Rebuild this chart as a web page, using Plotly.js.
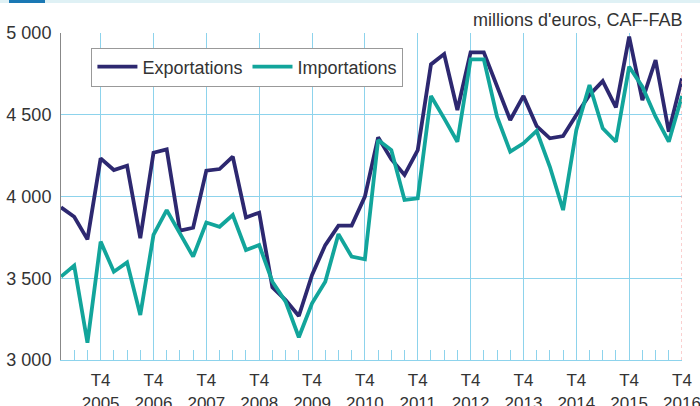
<!DOCTYPE html>
<html>
<head>
<meta charset="utf-8">
<script src="https://cdn.plot.ly/plotly-3.0.1.min.js"></script>
<style>
html,body{margin:0;padding:0;background:#fff;}
#chart{width:700px;height:406px;}
</style>
</head>
<body>
<div id="chart"></div>
<script>
// Quarters 2005T1 .. 2016T4
var quarters = ["2005T1","2005T2","2005T3","2005T4","2006T1","2006T2","2006T3","2006T4",
"2007T1","2007T2","2007T3","2007T4","2008T1","2008T2","2008T3","2008T4",
"2009T1","2009T2","2009T3","2009T4","2010T1","2010T2","2010T3","2010T4",
"2011T1","2011T2","2011T3","2011T4","2012T1","2012T2","2012T3","2012T4",
"2013T1","2013T2","2013T3","2013T4","2014T1","2014T2","2014T3","2014T4",
"2015T1","2015T2","2015T3","2015T4","2016T1","2016T2","2016T3","2016T4"];

var exportations = [3934,3876,3738,4233,4162,4188,3745,4268,4288,3791,
3809,4158,4168,4244,3872,3901,3444,3367,3269,3520,
3703,3822,3822,3999,4362,4228,4132,4284,4808,4871,
4529,4882,4882,4672,4468,4615,4431,4356,4370,4498,
4621,4706,4545,4978,4590,4835,4396,4722];

var importations = [3510,3577,3106,3724,3540,3597,3275,3765,3917,3776,
3632,3841,3815,3887,3673,3703,3479,3357,3139,3347,
3479,3770,3632,3616,4345,4284,3979,3989,4615,4478,
4335,4839,4839,4488,4274,4325,4402,4182,3917,4406,
4682,4417,4335,4794,4672,4488,4335,4615];

var years = ["2005","2006","2007","2008","2009","2010","2011","2012","2013","2014","2015","2016"];
var yTickVals = [3000,3500,4000,4500,5000];
var yTickText = ["3 000","3 500","4 000","4 500","5 000"];

function qToNum(q){ return parseInt(q.slice(0,4),10) + (parseInt(q.slice(5),10)-1)/4; }
var xs = quarters.map(qToNum);
var t4Vals = years.map(function(y){ return parseInt(y,10)+0.75; });
var t4Text = years.map(function(y){ return "T4<br>"+y; });

var grid = '#8dd3ec';

var traces = [
  {x: xs, y: exportations, name: 'Exportations', type: 'scatter', mode: 'lines',
   line: {color: '#2d2870', width: 3.8}},
  {x: xs, y: importations, name: 'Importations', type: 'scatter', mode: 'lines',
   line: {color: '#12a59b', width: 3.8}}
];

var layout = {
  width: 700, height: 406,
  margin: {l: 61, r: 18, t: 33, b: 46},
  paper_bgcolor: '#fff', plot_bgcolor: '#fff',
  font: {family: 'Liberation Sans, Arial, sans-serif', size: 18, color: '#333'},
  showlegend: true,
  legend: {orientation: 'h', x: 0.049, y: 0.896, xanchor: 'left', yanchor: 'middle',
           bgcolor: '#fff', bordercolor: '#999', borderwidth: 1,
           font: {size: 18, color: '#333'}, itemwidth: 40},
  xaxis: {
    range: [2005, 2016.75], tickmode: 'array', tickvals: t4Vals, ticktext: t4Text,
    showgrid: true, gridcolor: grid, gridwidth: 1,
    ticks: 'inside', ticklen: 10, tickcolor: grid,
    minor: {tick0: 2005, dtick: 0.25, ticks: 'inside', ticklen: 10, tickcolor: grid, showgrid: false},
    showline: true, linecolor: grid, linewidth: 1, zeroline: false,
    tickfont: {size: 17, color: '#333'}, ticklabelstandoff: 5, ticklabeloverflow: 'allow'
  },
  yaxis: {
    range: [3000, 5000], tickmode: 'array', tickvals: yTickVals, ticktext: yTickText,
    showgrid: true, gridcolor: grid, gridwidth: 1,
    showline: true, linecolor: '#888', linewidth: 1, zeroline: false,
    ticks: '', tickfont: {size: 18, color: '#333'}, ticklabelstandoff: 5
  },
  shapes: [
    {type: 'rect', xref: 'paper', yref: 'paper', x0: -0.1, x1: 1.04, y0: 1.0917, y1: 1.11,
     fillcolor: '#dff1f5', line: {width: 0}},
    {type: 'rect', xref: 'paper', yref: 'paper', x0: (9-61)/621, x1: (45-61)/621, y0: 1.0917, y1: 1.11,
     fillcolor: '#1a78b4', line: {width: 0}},
    {type: 'line', xref: 'x', yref: 'paper', x0: 2016.75, x1: 2016.75, y0: 0, y1: 1,
     line: {color: '#f4a0a0', width: 1, dash: 'dot'}}
  ],
  annotations: [
    {text: "millions d'euros, CAF-FAB", xref: 'paper', yref: 'paper', x: 1.005, y: 1.04,
     xanchor: 'right', yanchor: 'middle', showarrow: false, font: {size: 18, color: '#333'}}
  ]
};

Plotly.newPlot('chart', traces, layout, {displayModeBar: false, staticPlot: true});
</script>
</body>
</html>
